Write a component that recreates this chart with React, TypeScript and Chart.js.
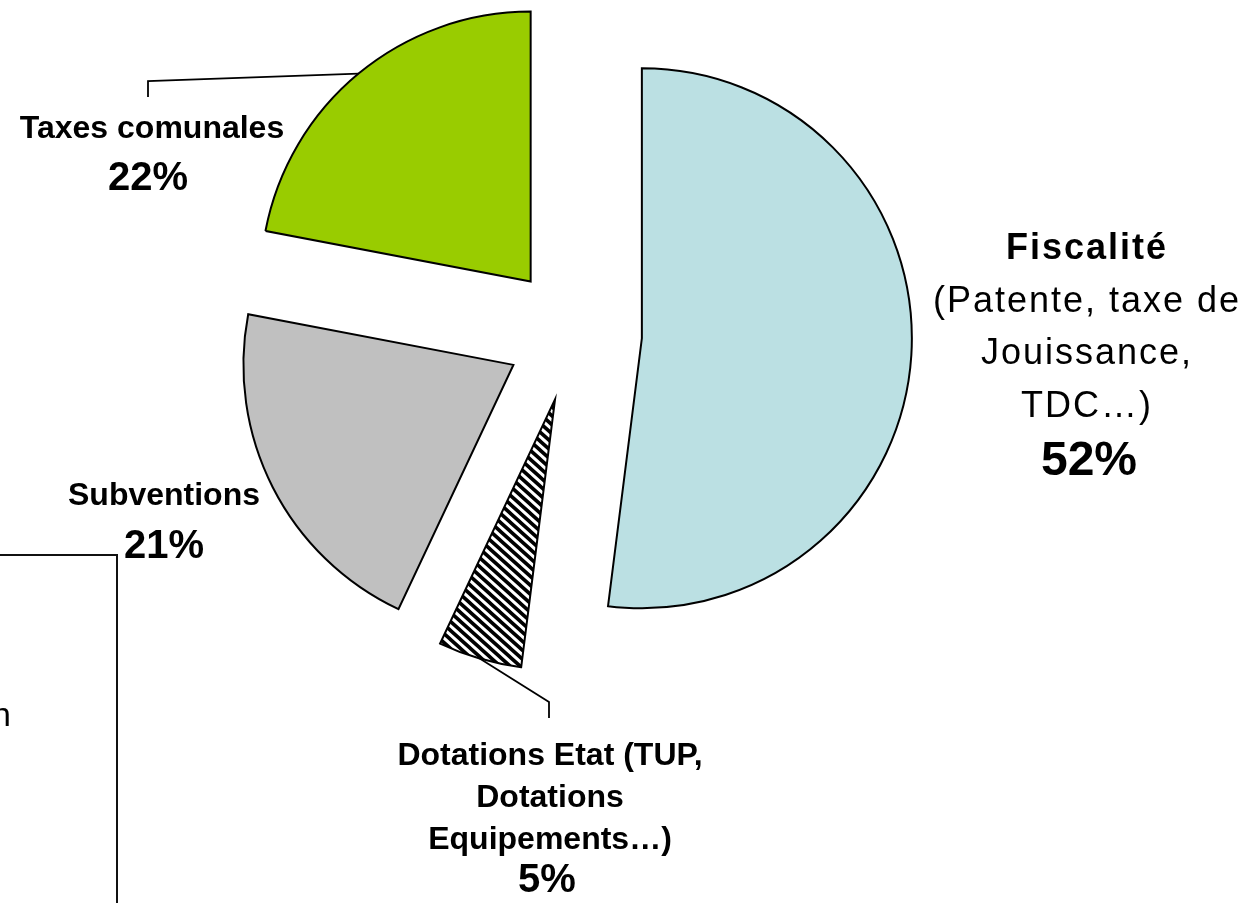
import React, { useEffect, useRef } from 'react';
import { Chart, registerables } from 'chart.js';

Chart.register(...registerables);

// ---- data ----
const categories = ['Fiscalité', 'Dotations Etat', 'Subventions', 'Taxes comunales'];
const values = [52, 5, 21, 22];
const percentLabels = ['52%', '5%', '21%', '22%'];
const fiscaliteLines = ['(Patente, taxe de', 'Jouissance,', 'TDC…)'];
const dotationLines = ['Dotations Etat (TUP,', 'Dotations', 'Equipements…)'];

// ---- style ----
const COLORS = ['#BBE0E3', 'HATCH', '#C0C0C0', '#99CC00'];
const EXPLODE = 68;
const FONT = '"Liberation Sans", Arial, Helvetica, sans-serif';

function makeHatch(): CanvasPattern | string {
  const w = 10;
  const h = 9;
  const c = document.createElement('canvas');
  c.width = w;
  c.height = h;
  const g = c.getContext('2d');
  if (!g) return '#888';
  g.fillStyle = '#fff';
  g.fillRect(0, 0, w, h);
  g.strokeStyle = '#000';
  g.lineWidth = 3.6;
  g.beginPath();
  const slope = h / w;
  for (const k of [-1, 0, 1]) {
    g.moveTo(-2, k * h - 2 * slope);
    g.lineTo(w + 2, k * h + h + 2 * slope);
  }
  g.stroke();
  return g.createPattern(c, 'repeat') || '#888';
}

const explodePlugin = {
  id: 'explode',
  afterUpdate(chart: any) {
    const meta = chart.getDatasetMeta(0);
    meta.data.forEach((arc: any) => {
      const mid = (arc.startAngle + arc.endAngle) / 2;
      arc.x += Math.cos(mid) * EXPLODE;
      arc.y += Math.sin(mid) * EXPLODE;
    });
  },
};

function arcMid(arc: any) {
  const mid = (arc.startAngle + arc.endAngle) / 2;
  return { x: arc.x + Math.cos(mid) * arc.outerRadius, y: arc.y + Math.sin(mid) * arc.outerRadius };
}

const labelPlugin = {
  id: 'sliceLabels',
  afterDatasetsDraw(chart: any) {
    const ctx: CanvasRenderingContext2D = chart.ctx;
    const arcs = chart.getDatasetMeta(0).data;
    ctx.save();
    ctx.fillStyle = '#000';
    ctx.strokeStyle = '#000';
    ctx.lineWidth = 1.8;
    ctx.textAlign = 'center';
    ctx.textBaseline = 'alphabetic';

    // leader lines
    const t = arcMid(arcs[3]);
    ctx.beginPath();
    ctx.moveTo(t.x, t.y);
    ctx.lineTo(148, 81);
    ctx.lineTo(148, 97);
    ctx.stroke();

    const d = arcMid(arcs[1]);
    ctx.beginPath();
    ctx.moveTo(d.x, d.y);
    ctx.lineTo(549, 702);
    ctx.lineTo(549, 718);
    ctx.stroke();

    // Taxes comunales
    ctx.font = `bold 32px ${FONT}`;
    ctx.fillText(categories[3], 152, 138);
    ctx.font = `bold 40px ${FONT}`;
    ctx.fillText(percentLabels[3], 148, 190);

    // Subventions
    ctx.font = `bold 32px ${FONT}`;
    ctx.fillText(categories[2], 164, 505);
    ctx.font = `bold 40px ${FONT}`;
    ctx.fillText(percentLabels[2], 164, 558);

    // Dotations
    ctx.font = `bold 32px ${FONT}`;
    const dBase = [765, 807, 849];
    dotationLines.forEach((s, i) => ctx.fillText(s, 550, dBase[i]));
    ctx.font = `bold 40px ${FONT}`;
    ctx.fillText(percentLabels[1], 547, 892);

    // Fiscalité
    (ctx as any).letterSpacing = '2px';
    ctx.font = `bold 36px ${FONT}`;
    ctx.fillText(categories[0], 1087, 259);
    ctx.font = `36px ${FONT}`;
    const fBase = [312, 364, 417];
    fiscaliteLines.forEach((s, i) => ctx.fillText(s, 1087, fBase[i]));
    (ctx as any).letterSpacing = '0px';
    ctx.font = `bold 48px ${FONT}`;
    ctx.fillText(percentLabels[0], 1089, 475);

    // stray box and glyph at the left edge
    ctx.strokeStyle = '#111';
    ctx.lineWidth = 2;
    ctx.beginPath();
    ctx.moveTo(0, 555);
    ctx.lineTo(117, 555);
    ctx.lineTo(117, 903);
    ctx.stroke();
    ctx.textAlign = 'right';
    ctx.font = `34px ${FONT}`;
    ctx.fillText('n', 11, 726);

    ctx.restore();
  },
};

export default function App() {
  const ref = useRef<HTMLCanvasElement>(null);
  useEffect(() => {
    document.body.style.margin = '0';
    if (!ref.current) return;
    const hatch = makeHatch();
    const bg = COLORS.map((c) => (c === 'HATCH' ? hatch : c));
    const chart = new Chart(ref.current, {
      type: 'pie',
      data: {
        labels: categories,
        datasets: [
          {
            data: values,
            backgroundColor: bg as any,
            borderColor: '#000',
            borderWidth: 2,
            borderJoinStyle: 'miter',
          } as any,
        ],
      },
      options: {
        responsive: false,
        animation: false,
        events: [],
        radius: 270,
        layout: { padding: { left: 0, right: 110, top: 0, bottom: 235 } },
        plugins: { legend: { display: false }, tooltip: { enabled: false }, title: { display: false } },
      } as any,
      plugins: [explodePlugin, labelPlugin],
    });
    return () => chart.destroy();
  }, []);
  return (
    <div style={{ position: 'fixed', left: 0, top: 0, width: 1258, height: 903, background: '#fff' }}>
      <canvas ref={ref} width={1258} height={903} style={{ display: 'block' }} />
    </div>
  );
}
